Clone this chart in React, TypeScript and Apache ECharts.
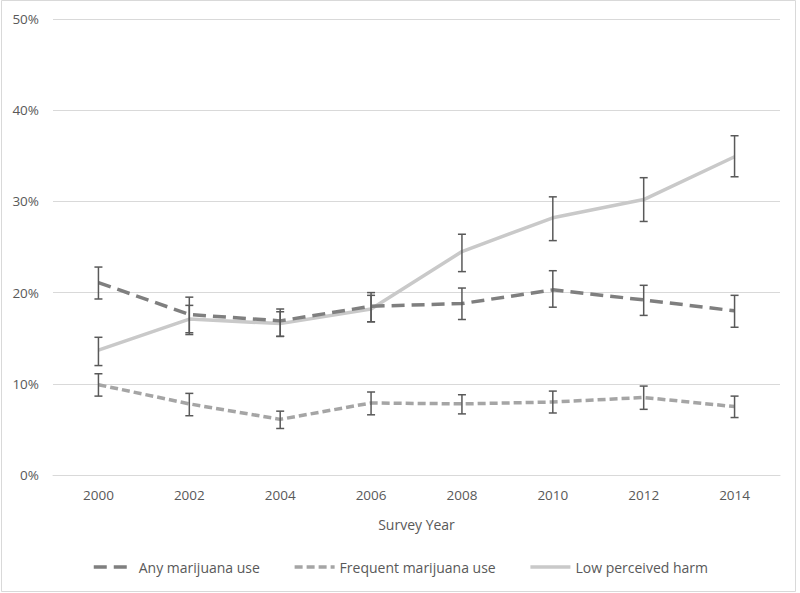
import React, { useEffect, useRef } from "react";
import * as echarts from "echarts";

const years = ["2000", "2002", "2004", "2006", "2008", "2010", "2012", "2014"];
const yTicks = [0, 10, 20, 30, 40, 50];

const anyUse = [21.1, 17.6, 16.9, 18.5, 18.8, 20.3, 19.2, 18.0];
const anyLow = [19.3, 15.6, 15.2, 16.8, 17.05, 18.4, 17.5, 16.2];
const anyHigh = [22.8, 19.5, 18.2, 20.0, 20.5, 22.4, 20.8, 19.7];

const freqUse = [9.9, 7.8, 6.1, 7.9, 7.8, 8.0, 8.5, 7.5];
const freqLow = [8.65, 6.5, 5.1, 6.6, 6.7, 6.8, 7.2, 6.3];
const freqHigh = [11.1, 8.95, 7.0, 9.1, 8.8, 9.2, 9.75, 8.65];

const harm = [13.7, 17.1, 16.6, 18.2, 24.5, 28.2, 30.2, 34.9];
const harmLow = [12.0, 15.4, 15.2, 16.8, 22.3, 25.7, 27.8, 32.7];
const harmHigh = [15.1, 18.6, 17.9, 19.7, 26.4, 30.5, 32.6, 37.2];

const FONT = "'Open Sans', sans-serif";
const TEXT = "#595959";

function errData(low: number[], high: number[]) {
  return low.map((l, i) => [i, l, high[i]]);
}

function errSeries(name: string, low: number[], high: number[]) {
  return {
    type: "custom",
    name: name + " CI",
    z: 10,
    silent: true,
    data: errData(low, high),
    encode: { x: 0, y: [1, 2] },
    renderItem: (params: any, api: any) => {
      const x = api.value(0);
      const lo = api.coord([x, api.value(1)]);
      const hi = api.coord([x, api.value(2)]);
      const cap = 4;
      const style = { stroke: "#595959", lineWidth: 1.5 };
      return {
        type: "group",
        children: [
          { type: "line", shape: { x1: lo[0], y1: lo[1], x2: hi[0], y2: hi[1] }, style },
          { type: "line", shape: { x1: lo[0] - cap, y1: lo[1], x2: lo[0] + cap, y2: lo[1] }, style },
          { type: "line", shape: { x1: hi[0] - cap, y1: hi[1], x2: hi[0] + cap, y2: hi[1] }, style },
        ],
      };
    },
  };
}

export default function App() {
  const ref = useRef<HTMLDivElement>(null);
  useEffect(() => {
    if (!ref.current) return;
    const chart = echarts.init(ref.current, undefined, { renderer: "svg" });
    chart.setOption({
      animation: false,
      backgroundColor: "#ffffff",
      textStyle: { fontFamily: FONT },
      graphic: [
        {
          type: "rect",
          shape: { x: 1.5, y: 0.5, width: 794, height: 591 },
          style: { fill: "none", stroke: "#d9d9d9", lineWidth: 1 },
          silent: true,
        },
      ],
      grid: { left: 53, right: 20, top: 19, bottom: 118 },
      legend: {
        bottom: 14,
        left: "center",
        itemWidth: 40,
        itemHeight: 6,
        itemGap: 33,
        itemStyle: { opacity: 0 },
        lineStyle: { width: 3.5 },
        textStyle: { color: TEXT, fontSize: 14, fontFamily: FONT },
        data: ["Any marijuana use", "Frequent marijuana use", "Low perceived harm"],
      },
      xAxis: {
        type: "category",
        data: years,
        boundaryGap: true,
        name: "Survey Year",
        nameLocation: "middle",
        nameGap: 42,
        nameTextStyle: { color: TEXT, fontSize: 14, fontFamily: FONT },
        axisLine: { show: true, lineStyle: { color: "#d9d9d9", width: 1 } },
        axisTick: { show: false },
        axisLabel: { color: TEXT, fontSize: 13.5, margin: 13, fontFamily: FONT },
      },
      yAxis: {
        type: "value",
        min: yTicks[0],
        max: yTicks[yTicks.length - 1],
        interval: 10,
        axisLine: { show: false },
        axisTick: { show: false },
        splitLine: { lineStyle: { color: "#d9d9d9", width: 1 } },
        axisLabel: { color: TEXT, fontSize: 13.5, margin: 14, formatter: "{value}%", fontFamily: FONT },
      },
      series: [
        {
          type: "line",
          name: "Any marijuana use",
          data: anyUse,
          symbol: "none",
          itemStyle: { color: "#7f7f7f" },
          lineStyle: { color: "#7f7f7f", width: 3.5, type: [13, 7] },
          z: 3,
        },
        {
          type: "line",
          name: "Frequent marijuana use",
          data: freqUse,
          symbol: "none",
          itemStyle: { color: "#a5a5a5" },
          lineStyle: { color: "#a5a5a5", width: 3.5, type: [8, 4] },
          z: 3,
        },
        {
          type: "line",
          name: "Low perceived harm",
          data: harm,
          symbol: "none",
          itemStyle: { color: "#c9c9c9" },
          lineStyle: { color: "#c9c9c9", width: 3.5 },
          z: 2,
        },
        errSeries("Any marijuana use", anyLow, anyHigh),
        errSeries("Frequent marijuana use", freqLow, freqHigh),
        errSeries("Low perceived harm", harmLow, harmHigh),
      ],
    });
    return () => chart.dispose();
  }, []);
  return (
    <div style={{ position: "fixed", left: 0, top: 0, width: 800, height: 593, background: "#fff" }}>
      <div ref={ref} style={{ width: 800, height: 593 }} />
    </div>
  );
}
